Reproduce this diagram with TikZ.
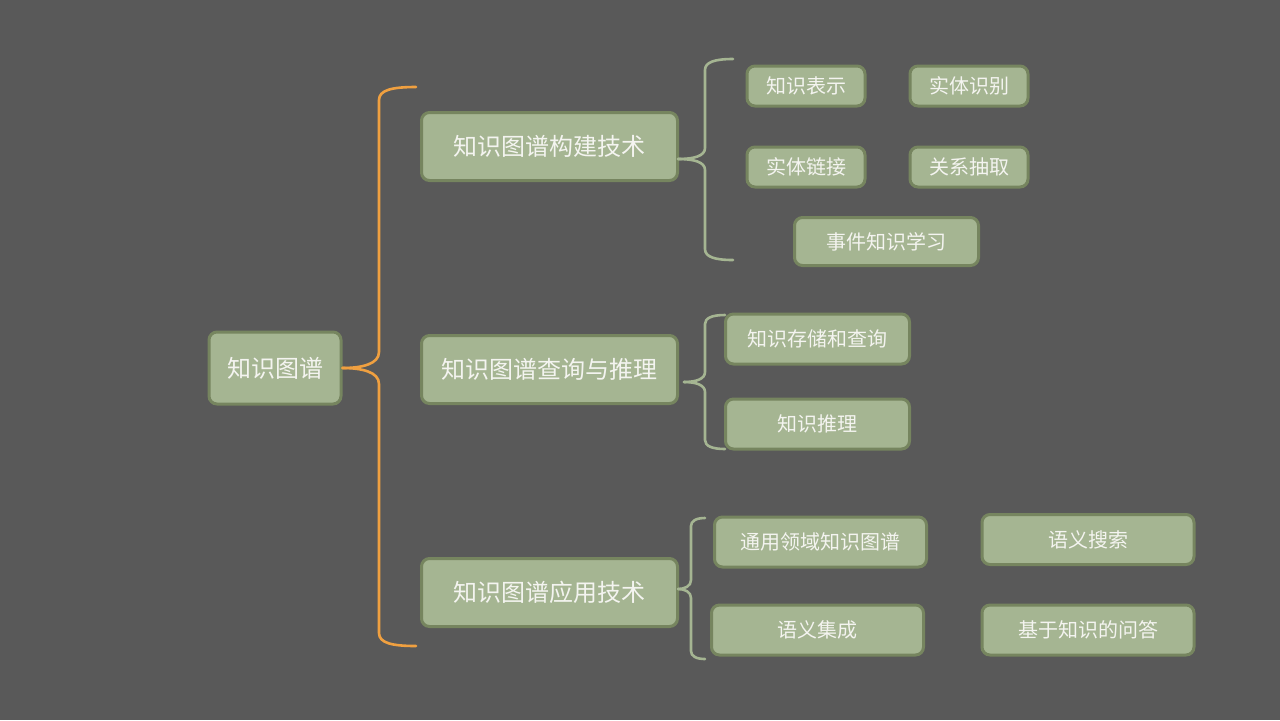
\documentclass[tikz,border=0pt]{standalone}
\usepackage{fontspec}
\setmainfont{Noto Sans CJK SC}
\usetikzlibrary{calc}
\definecolor{bg}{HTML}{595959}
\definecolor{boxfill}{HTML}{A5B592}
\definecolor{boxline}{HTML}{76855F}
\definecolor{txt}{HTML}{F4F4F0}
\definecolor{bracegreen}{HTML}{A5B592}
\definecolor{braceorange}{HTML}{F0A040}
\tikzset{
  box/.style={draw=boxline, line width=1.5pt, fill=boxfill, rounded corners=4pt,
    text=txt, inner sep=0pt, align=center},
  bigbox/.style={box, minimum width=128pt, minimum height=34pt, font=\fontsize{12}{14}\selectfont},
  smallbox/.style={box, font=\fontsize{10}{12}\selectfont},
  rootbrace/.style={draw=braceorange, line width=1.3pt, line cap=round},
  subbrace/.style={draw=bracegreen, line width=1.3pt, line cap=round},
}
\begin{document}
\begin{tikzpicture}[x=0.5pt,y=-0.5pt]
  \fill[bg] (0,0) rectangle (1280,720);
  \useasboundingbox (0,0) rectangle (1280,720);

  % root and first level
  \node[bigbox, minimum width=66pt, minimum height=36pt] (root) at (275,368) {知识图谱};
  \node[bigbox] (build) at (549.5,146.5) {知识图谱构建技术};
  \node[bigbox] (query) at (549.5,369.5) {知识图谱查询与推理};
  \node[bigbox] (app)   at (549.5,592.5) {知识图谱应用技术};

  % construction techniques
  \node[smallbox, minimum width=59pt, minimum height=20pt] (repr) at (806,86) {知识表示};
  \node[smallbox, minimum width=59pt, minimum height=20pt] (ner)  at (969,86) {实体识别};
  \node[smallbox, minimum width=59pt, minimum height=20pt] (link) at (806,167) {实体链接};
  \node[smallbox, minimum width=59pt, minimum height=20pt] (rel)  at (969,167) {关系抽取};
  \node[smallbox, minimum width=92pt, minimum height=24pt] (event) at (886.5,241.5) {事件知识学习};

  % query and reasoning
  \node[smallbox, minimum width=92pt, minimum height=25pt] (store) at (817.5,339) {知识存储和查询};
  \node[smallbox, minimum width=92pt, minimum height=25pt] (reason) at (817.5,424) {知识推理};

  % applications
  \node[smallbox, minimum width=106pt, minimum height=25pt] (general) at (820.5,542) {通用领域知识图谱};
  \node[smallbox, minimum width=106pt, minimum height=25pt] (search)  at (1088,539.5) {语义搜索};
  \node[smallbox, minimum width=106pt, minimum height=25pt] (integ)   at (817.5,630) {语义集成};
  \node[smallbox, minimum width=106pt, minimum height=25pt] (qa)      at (1088,630) {基于知识的问答};

  % brace end points
  \coordinate (rt) at (416,87);
  \coordinate (rb) at (416,646);
  \coordinate (bt) at (733,59);
  \coordinate (bb) at (733,260);
  \coordinate (bmid) at (678,159);
  \coordinate (qt) at (725,315);
  \coordinate (qb) at (725,449);
  \coordinate (qmid) at (684,382);
  \coordinate (at) at (705,518);
  \coordinate (ab) at (705,659);
  \coordinate (amid) at (678,589);

  % orange brace from the root
  \draw[rootbrace] (root.east) .. controls (362,368) and (379,364) .. (379,352)
    -- (379,100) .. controls (379,90) and (392,87) .. (rt);
  \draw[rootbrace] (root.east) .. controls (362,368) and (379,372) .. (379,384)
    -- (379,633) .. controls (379,643) and (392,646) .. (rb);

  % green braces
  \draw[subbrace] (bmid) .. controls (694,159) and (705,156) .. (705,148)
    -- (705,70) .. controls (705,62) and (715,59) .. (bt);
  \draw[subbrace] (bmid) .. controls (694,159) and (705,162) .. (705,170)
    -- (705,249) .. controls (705,257) and (715,260) .. (bb);

  \draw[subbrace] (qmid) .. controls (696,382) and (705,379) .. (705,372)
    -- (705,324) .. controls (705,318) and (712,315) .. (qt);
  \draw[subbrace] (qmid) .. controls (696,382) and (705,385) .. (705,392)
    -- (705,440) .. controls (705,446) and (712,449) .. (qb);

  \draw[subbrace] (amid) .. controls (685,589) and (691,586) .. (691,580)
    -- (691,526) .. controls (691,521) and (696,518) .. (at);
  \draw[subbrace] (amid) .. controls (685,589) and (691,592) .. (691,598)
    -- (691,651) .. controls (691,656) and (696,659) .. (ab);
\end{tikzpicture}
\end{document}
